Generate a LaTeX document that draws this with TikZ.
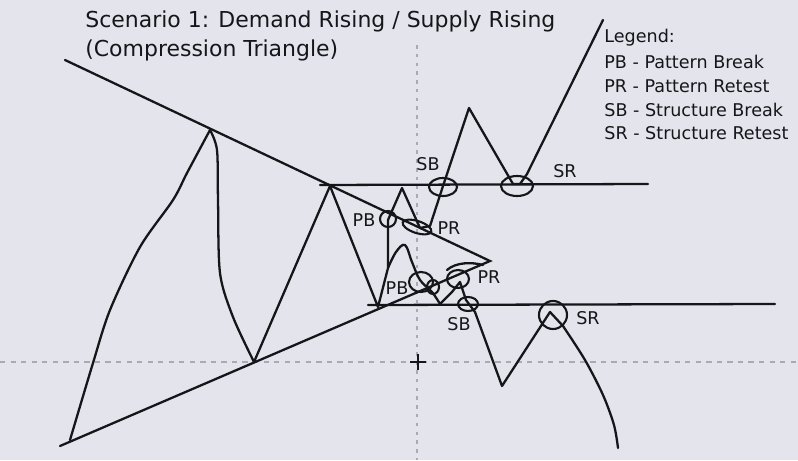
\documentclass[tikz,border=0pt]{standalone}
\usepackage{fontspec}
\setmainfont{DejaVu Sans}
\usetikzlibrary{positioning}
\definecolor{boardcolor}{RGB}{228,228,236}
\definecolor{inkcolor}{RGB}{22,22,26}
\definecolor{guidecolor}{RGB}{170,170,182}

\begin{document}
\begin{tikzpicture}[
    x=0.02cm, y=-0.02cm,
    trendline/.style={draw=inkcolor, line width=1.3pt, line cap=round},
    price/.style={draw=inkcolor, line width=1.3pt, line cap=round, line join=round},
    marker/.style={draw=inkcolor, line width=1.2pt},
    tag/.style={font=\fontsize{10}{12}\selectfont, text=inkcolor, inner sep=0pt},
    heading/.style={font=\fontsize{12.5}{15}\selectfont, text=inkcolor, inner sep=0pt, anchor=west},
    guide/.style={draw=guidecolor, dashed, line width=0.6pt}
]
    % Board
    \fill[boardcolor] (0,0) rectangle (798,460);
    \useasboundingbox (0,0) rectangle (798,460);
    \draw[guide] (0,362) -- (798,362);
    \draw[guide, dash pattern=on 2pt off 3pt] (417,45) -- (417,460);
    \draw[inkcolor, line width=0.7pt] (410,362) -- (426,362) (418,354) -- (418,370);

    % Key points
    \coordinate (upend) at (65,60);
    \coordinate (loend) at (60,446);
    \coordinate (apex) at (490,261);
    \coordinate (peakA) at (210,130);
    \coordinate (lowA) at (254,362);
    \coordinate (peakB) at (330,186);
    \coordinate (lowB) at (378,307);

    % Triangle and structure levels
    \draw[trendline] (upend) -- (apex) -- (loend);
    \draw[trendline] (320,185) -- (648,184);
    \draw[trendline] (368,305) -- (775,304);

    % Price swings inside the triangle
    \draw[price] plot[smooth, tension=0.5] coordinates {(70,440) (93,363) (110,310) (140,247) (173,200) (187,173) (peakA)};
    \draw[price] plot[smooth, tension=0.5] coordinates {(peakA) (217,150) (218,200) (220,273) (233,317) (lowA)};
    \draw[price] (lowA) -- (peakB) -- (lowB) -- (388,268) -- (388,220);

    % Breakout up
    \draw[price] (388,220) -- (402,188) -- (420,228) -- (430,226) -- (443,186)
        -- (469,108) -- (513,184) -- (520,184) -- (527,174) -- (603,20);

    % Breakdown
    \draw[price] plot[smooth, tension=0.6] coordinates {(388,268) (396,252) (405,245) (412,262) (420,280) (432,292) (440,304)};
    \draw[price] (447,270) .. controls (456,262) and (472,262) .. (483,265);
    \draw[price] (440,304) -- (452,292) -- (460,282) -- (466,300) -- (475,312)
        -- (502,386) -- (550,312) -- (563,326);
    \draw[price] plot[smooth, tension=0.5] coordinates {(563,326) (585,360) (603,395) (614,425) (618,448)};

    % Markers
    \draw[marker] (388,219) circle [radius=8];
    \draw[marker, rotate around={-18:(417,227)}] (417,227) ellipse [x radius=15, y radius=6];
    \draw[marker] (443,187) ellipse [x radius=14, y radius=9];
    \draw[marker] (517,186) ellipse [x radius=16, y radius=10];
    \draw[marker] (421,282) ellipse [x radius=12, y radius=10];
    \draw[marker] (433,287) ellipse [x radius=6, y radius=7];
    \draw[marker] (458,279) ellipse [x radius=11, y radius=9];
    \draw[marker] (468,304) ellipse [x radius=10, y radius=7];
    \draw[marker] (553,315) circle [radius=14];

    % Marker labels
    \node[tag] (pbup) at (364,220) {PB};
    \node[tag] (prup) at (449,228) {PR};
    \node[tag] (sbup) at (428,164) {SB};
    \node[tag] (srup) at (565,171) {SR};
    \node[tag] (pblo) at (397,288) {PB};
    \node[tag] (prlo) at (489,277) {PR};
    \node[tag] (sblo) at (459,324) {SB};
    \node[tag] (srlo) at (588,318) {SR};

    % Title
    \node[heading] (title) at (85,21) {Scenario 1: Demand Rising / Supply Rising};
    \node[heading] (subtitle) at (85,50) {(Compression Triangle)};

    % Legend
    \node[tag, anchor=west] (legend) at (604,38) {Legend:};
    \node[tag, anchor=west] (legpb) at (604,62) {PB - Pattern Break};
    \node[tag, anchor=west] (legpr) at (604,86) {PR - Pattern Retest};
    \node[tag, anchor=west] (legsb) at (604,110) {SB - Structure Break};
    \node[tag, anchor=west] (legsr) at (604,133) {SR - Structure Retest};
\end{tikzpicture}
\end{document}
